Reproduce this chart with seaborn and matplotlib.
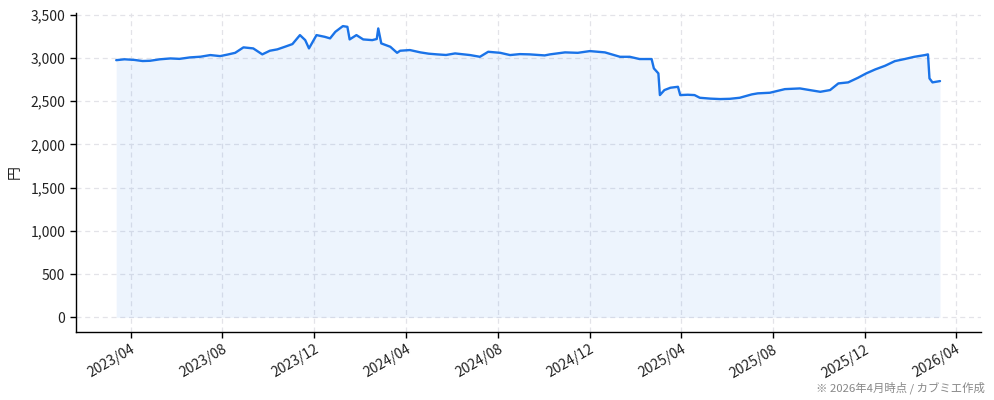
import matplotlib
matplotlib.use("Agg")
import matplotlib.pyplot as plt
import matplotlib.dates as mdates
import matplotlib.ticker as mticker
import seaborn as sns
import pandas as pd

dates = [
    "2023-03-13", "2023-03-24", "2023-04-06", "2023-04-17", "2023-04-27", "2023-05-10",
    "2023-05-24", "2023-06-05", "2023-06-19", "2023-07-03", "2023-07-16", "2023-07-29",
    "2023-08-08", "2023-08-18", "2023-08-29", "2023-09-11", "2023-09-23", "2023-10-03",
    "2023-10-13", "2023-10-23", "2023-11-02", "2023-11-12", "2023-11-19", "2023-11-24",
    "2023-12-04", "2023-12-15", "2023-12-22", "2023-12-29", "2024-01-08", "2024-01-14",
    "2024-01-17", "2024-01-26", "2024-02-04", "2024-02-16", "2024-02-22", "2024-02-24",
    "2024-02-28", "2024-03-11", "2024-03-20", "2024-03-24", "2024-04-06", "2024-04-20",
    "2024-05-01", "2024-05-12", "2024-05-24", "2024-06-05", "2024-06-25", "2024-07-08",
    "2024-07-19", "2024-08-04", "2024-08-17", "2024-08-30", "2024-09-12", "2024-10-02",
    "2024-10-09", "2024-10-29", "2024-11-15", "2024-12-01", "2024-12-21", "2025-01-10",
    "2025-01-23", "2025-02-05", "2025-02-21", "2025-02-24", "2025-03-02", "2025-03-04",
    "2025-03-10", "2025-03-18", "2025-03-28", "2025-03-31", "2025-04-10", "2025-04-19",
    "2025-04-26", "2025-05-10", "2025-05-23", "2025-06-05", "2025-06-18", "2025-07-04",
    "2025-07-12", "2025-07-28", "2025-08-17", "2025-09-06", "2025-09-19", "2025-10-03",
    "2025-10-16", "2025-10-27", "2025-11-09", "2025-11-22", "2025-12-03", "2025-12-15",
    "2025-12-28", "2026-01-10", "2026-01-23", "2026-02-05", "2026-02-19", "2026-02-23",
    "2026-02-25", "2026-03-01", "2026-03-11",
]
prices = [
    2975, 2985, 2978, 2965, 2968, 2985,
    2995, 2990, 3007, 3015, 3034, 3022,
    3040, 3060, 3123, 3111, 3042, 3084,
    3100, 3130, 3161, 3265, 3207, 3111,
    3265, 3245, 3227, 3303, 3369, 3361,
    3215, 3265, 3215, 3207, 3220, 3342,
    3169, 3130, 3060, 3084, 3092, 3065,
    3050, 3042, 3035, 3053, 3034, 3014,
    3072, 3060, 3034, 3045, 3042, 3030,
    3042, 3065, 3060, 3080, 3065, 3014,
    3014, 2988, 2988, 2880, 2822, 2571,
    2629, 2656, 2667, 2571, 2575, 2571,
    2540, 2530, 2525, 2528, 2540, 2579,
    2591, 2598, 2640, 2648, 2629, 2609,
    2629, 2706, 2718, 2771, 2822, 2868,
    2910, 2964, 2988, 3014, 3034, 3042,
    2764, 2718, 2733,
]

df = pd.DataFrame({"date": pd.to_datetime(dates), "price": prices})

sns.set_theme(style="white")
plt.rcParams["font.family"] = ["Noto Sans CJK JP", "DejaVu Sans"]

fig = plt.figure(figsize=(9.94, 4.0), dpi=100)
ax = fig.add_axes([0.076, 0.17, 0.9106, 0.798])

line_color = "#1a73e8"
sns.lineplot(data=df, x="date", y="price", ax=ax, color=line_color, linewidth=1.7)
ax.fill_between(df["date"], df["price"], 0, color=line_color, alpha=0.08, linewidth=0)

ax.set_xlim(pd.Timestamp("2023-01-18"), pd.Timestamp("2026-05-04"))
ax.set_ylim(-170, 3523)

ax.xaxis.set_major_locator(mdates.MonthLocator(bymonth=[4, 8, 12]))
ax.xaxis.set_major_formatter(mdates.DateFormatter("%Y/%m"))
ax.yaxis.set_major_locator(mticker.MultipleLocator(500))
ax.yaxis.set_major_formatter(mticker.FuncFormatter(lambda v, p: f"{int(v):,}"))

ax.grid(True, linestyle=(0, (4, 3)), color="#e3e3e8", linewidth=0.9)
ax.set_axisbelow(True)

for s in ["top", "right"]:
    ax.spines[s].set_visible(False)
for s in ["left", "bottom"]:
    ax.spines[s].set_color("black")
    ax.spines[s].set_linewidth(1.0)

ax.tick_params(axis="both", which="major", length=4, width=1, color="black",
               labelsize=10, labelcolor="#222222", bottom=True, left=True, direction="out")
plt.setp(ax.get_xticklabels(), rotation=30, ha="right", rotation_mode="anchor")

ax.set_xlabel("")
ax.set_ylabel("円", fontsize=10, color="#222222")
ax.yaxis.set_label_coords(-0.059, 0.5)

fig.text(0.991, 0.03, "※ 2026年4月時点 / カブミエ作成", ha="right", va="center",
         fontsize=8.2, color="#888888")

fig.savefig("out.png", dpi=100)
